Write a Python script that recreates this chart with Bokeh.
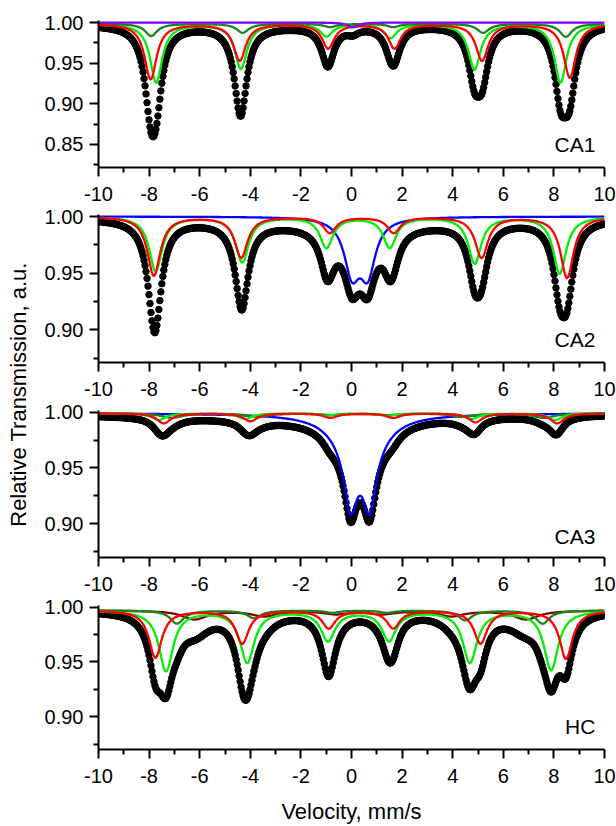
import numpy as np
from bokeh.plotting import figure
from bokeh.layouts import row, column
from bokeh.models import Range1d, FixedTicker, CustomJSTickFormatter, Label
from bokeh.embed import file_html
from bokeh.resources import INLINE

FONT = "Liberation Sans"

# ---------------- axes ----------------
velocity_major_ticks = [-10, -8, -6, -4, -2, 0, 2, 4, 6, 8, 10]
velocity_minor_ticks = [-9, -7, -5, -3, -1, 1, 3, 5, 7, 9]
ca1_y_ticks = [0.85, 0.90, 0.95, 1.00]
ca1_y_minor = [0.825, 0.875, 0.925, 0.975]
y_ticks = [0.90, 0.95, 1.00]
y_minor = [0.875, 0.925, 0.975]
channel_count = 512

# ---------------- CA1 (line positions mm/s, depths, widths mm/s) ----------------
ca1_baseline = 0.9985
ca1_red_pos = [-7.94, -4.42, -0.92, 1.70, 5.16, 8.63]
ca1_red_depth = [0.068, 0.045, 0.030, 0.030, 0.045, 0.066]
ca1_green_pos = [-7.72, -4.37, -0.99, 1.54, 4.86, 8.26]
ca1_green_depth = [0.072, 0.055, 0.015, 0.017, 0.056, 0.072]
ca1_dkgreen_pos = [-7.92, -4.30, -0.85, 1.65, 5.20, 8.47]
ca1_dkgreen_depth = [0.015, 0.011, 0.004, 0.004, 0.011, 0.016]
ca1_violet_pos = [0.05]
ca1_violet_depth = [0.006]
ca1_fwhm = 0.58
ca1_violet_fwhm = 0.5
ca1_bg_pos = [-3.0]
ca1_bg_depth = [0.003]
ca1_bg_fwhm = [12.0]

# ---------------- CA2 ----------------
ca2_baseline = 1.0
ca2_red_pos = [-7.81, -4.36, -0.86, 1.67, 5.14, 8.52]
ca2_red_depth = [0.052, 0.036, 0.014, 0.014, 0.036, 0.054]
ca2_green_pos = [-7.74, -4.32, -0.99, 1.51, 4.87, 8.23]
ca2_green_depth = [0.048, 0.040, 0.027, 0.027, 0.041, 0.050]
ca2_fwhm = 0.62
ca2_blue_pos = [0.02, 0.64]
ca2_blue_depth = [0.046, 0.046]
ca2_blue_fwhm = 0.75
ca2_bg_pos = [0.3]
ca2_bg_depth = [0.008]
ca2_bg_fwhm = [12.0]

# ---------------- CA3 ----------------
ca3_baseline = 0.999
ca3_blue_pos = [-0.04, 0.72, -0.04, 0.72]
ca3_blue_depth = [0.0525, 0.0525, 0.0198, 0.0198]
ca3_blue_fwhm = [0.6, 0.6, 1.8, 1.8]
ca3_red_pos = [-7.42, -4.00, -0.83, 1.65, 4.90, 8.13]
ca3_red_depth = [0.009, 0.007, 0.004, 0.004, 0.008, 0.009]
ca3_green_pos = [-7.62, -4.20, -0.95, 1.50, 4.75, 8.05]
ca3_green_depth = [0.006, 0.005, 0.002, 0.002, 0.005, 0.006]
ca3_dkgreen_pos = [-7.10, -3.70, -0.70, 1.40, 4.40, 7.60]
ca3_dkgreen_depth = [0.004, 0.003, 0.0015, 0.0015, 0.003, 0.004]
ca3_fwhm = 0.65
ca3_dkgreen_fwhm = 1.0
ca3_bg_pos = [-2.0]
ca3_bg_depth = [0.005]
ca3_bg_fwhm = [14.0]

# ---------------- HC ----------------
hc_baseline = 0.997
hc_red_pos = [-7.75, -4.32, -0.90, 1.65, 5.10, 8.48]
hc_red_depth = [0.043, 0.030, 0.016, 0.016, 0.030, 0.044]
hc_red_fwhm = 0.62
hc_green_pos = [-7.33, -4.12, -0.93, 1.48, 4.68, 7.89]
hc_green_depth = [0.055, 0.047, 0.027, 0.027, 0.047, 0.054]
hc_green_fwhm = 0.68
hc_dkgreen_pos = [-6.90, -3.85, -0.75, 1.40, 4.50, 7.55]
hc_dkgreen_depth = [0.012, 0.007, 0.002, 0.002, 0.009, 0.012]
hc_dkgreen_fwhm = 0.65
hc_brown_pos = [-6.20, -3.45, -0.60, 1.20, 3.95, 6.90]
hc_brown_depth = [0.008, 0.005, 0.003, 0.003, 0.005, 0.008]
hc_brown_fwhm = 1.2
hc_bg_pos = [-6.1, -3.7, -0.9, 4.3, 6.6]
hc_bg_depth = [0.008, 0.003, 0.010, 0.003, 0.006]
hc_bg_fwhm = [1.5, 1.5, 0.6, 1.5, 1.5]

RED = "#ff0000"
GREEN = "#00ee00"
DKGREEN = "#1a841a"
BLUE = "#0000ff"
VIOLET = "#8000ff"
BROWN = "#800000"


def absorption(v, pos, depth, fwhm):
    pos = np.asarray(pos, float)
    depth = np.asarray(depth, float)
    fwhm = np.broadcast_to(np.asarray(fwhm, float), pos.shape)
    out = np.zeros_like(v)
    for p0, d0, w0 in zip(pos, depth, fwhm):
        out += d0 / (1.0 + ((v - p0) / (w0 / 2.0)) ** 2)
    return out


v_line = np.linspace(-10, 10, 1201)
v_dots = np.linspace(-10, 10, channel_count)


def style_axis(ax, standoff):
    ax.axis_line_width = 2
    ax.axis_line_color = "black"
    ax.major_tick_line_width = 2
    ax.minor_tick_line_width = 2
    ax.major_tick_line_color = "black"
    ax.minor_tick_line_color = "black"
    ax.major_tick_in = 0
    ax.major_tick_out = 9
    ax.minor_tick_in = 0
    ax.minor_tick_out = 5
    ax.major_label_text_font = FONT
    ax.major_label_text_font_size = "20px"
    ax.major_label_text_color = "black"
    ax.major_label_standoff = standoff


def make_panel(name, y_rng, ymaj, ymin, comps, bg, base, height, top, bottom, lab_y, xlabel=None):
    p = figure(width=578, height=height, x_range=Range1d(-10, 10), y_range=Range1d(*y_rng),
               output_backend="svg", toolbar_location=None,
               min_border_left=60, min_border_right=12, min_border_top=top, min_border_bottom=bottom)
    p.outline_line_color = None
    p.xgrid.visible = False
    p.ygrid.visible = False
    style_axis(p.xaxis[0], 10)
    style_axis(p.yaxis[0], 6)
    p.xaxis.ticker = FixedTicker(ticks=velocity_major_ticks, minor_ticks=velocity_minor_ticks)
    p.yaxis.ticker = FixedTicker(ticks=ymaj, minor_ticks=ymin)
    p.xaxis.formatter = CustomJSTickFormatter(code="return tick.toFixed(0);")
    p.yaxis.formatter = CustomJSTickFormatter(code="return tick.toFixed(2);")
    if xlabel:
        p.xaxis.axis_label = xlabel
        p.xaxis.axis_label_text_font = FONT
        p.xaxis.axis_label_text_font_size = "22px"
        p.xaxis.axis_label_text_font_style = "normal"
        p.xaxis.axis_label_text_color = "black"
        p.xaxis.axis_label_standoff = 13

    total = np.zeros_like(v_dots)
    for c in comps:
        total += absorption(v_dots, c["pos"], c["depth"], c["fwhm"])
    total += absorption(v_dots, *bg)
    p.scatter(v_dots, base - total, size=6.5, color="black", marker="circle")

    for c in comps:
        b = c.get("base", base)
        p.line(v_line, b - absorption(v_line, c["pos"], c["depth"], c["fwhm"]),
               line_color=c["color"], line_width=2.3)

    p.add_layout(Label(x=9.64, y=lab_y, text=name, text_align="right", text_baseline="middle",
                       text_font=FONT, text_font_size="21px", text_color="black"))
    return p


p1 = make_panel("CA1", (0.8217, 1.0025), ca1_y_ticks, ca1_y_minor, [
    dict(color=GREEN, pos=ca1_green_pos, depth=ca1_green_depth, fwhm=ca1_fwhm),
    dict(color=DKGREEN, pos=ca1_dkgreen_pos, depth=ca1_dkgreen_depth, fwhm=ca1_fwhm),
    dict(color=RED, pos=ca1_red_pos, depth=ca1_red_depth, fwhm=ca1_fwhm),
    dict(color=VIOLET, pos=ca1_violet_pos, depth=ca1_violet_depth, fwhm=ca1_violet_fwhm, base=1.0),
], (ca1_bg_pos, ca1_bg_depth, ca1_bg_fwhm), ca1_baseline, 204, 20, 37, 0.8497)

p2 = make_panel("CA2", (0.8712, 1.0018), y_ticks, y_minor, [
    dict(color=BLUE, pos=ca2_blue_pos, depth=ca2_blue_depth, fwhm=ca2_blue_fwhm),
    dict(color=GREEN, pos=ca2_green_pos, depth=ca2_green_depth, fwhm=ca2_fwhm),
    dict(color=RED, pos=ca2_red_pos, depth=ca2_red_depth, fwhm=ca2_fwhm),
], (ca2_bg_pos, ca2_bg_depth, ca2_bg_fwhm), ca2_baseline, 196, 10, 38, 0.8915)

p3 = make_panel("CA3", (0.8698, 1.0015), y_ticks, y_minor, [
    dict(color=BLUE, pos=ca3_blue_pos, depth=ca3_blue_depth, fwhm=ca3_blue_fwhm),
    dict(color=DKGREEN, pos=ca3_dkgreen_pos, depth=ca3_dkgreen_depth, fwhm=ca3_dkgreen_fwhm),
    dict(color=GREEN, pos=ca3_green_pos, depth=ca3_green_depth, fwhm=ca3_fwhm),
    dict(color=RED, pos=ca3_red_pos, depth=ca3_red_depth, fwhm=ca3_fwhm),
], (ca3_bg_pos, ca3_bg_depth, ca3_bg_fwhm), ca3_baseline, 196, 10, 39, 0.8886)

p4 = make_panel("HC", (0.8701, 1.0015), y_ticks, y_minor, [
    dict(color=BROWN, pos=hc_brown_pos, depth=hc_brown_depth, fwhm=hc_brown_fwhm),
    dict(color=DKGREEN, pos=hc_dkgreen_pos, depth=hc_dkgreen_depth, fwhm=hc_dkgreen_fwhm),
    dict(color=GREEN, pos=hc_green_pos, depth=hc_green_depth, fwhm=hc_green_fwhm),
    dict(color=RED, pos=hc_red_pos, depth=hc_red_depth, fwhm=hc_red_fwhm),
], (hc_bg_pos, hc_bg_depth, hc_bg_fwhm), hc_baseline, 230, 9, 73, 0.8914,
    xlabel="Velocity, mm/s")

TOTAL_H = 204 + 196 + 196 + 230
lab = figure(width=38, height=TOTAL_H, x_range=Range1d(0, 38), y_range=Range1d(0, TOTAL_H),
             output_backend="svg", toolbar_location=None, min_border=0,
             x_axis_location=None, y_axis_location=None)
lab.outline_line_color = None
lab.grid.visible = False
lab.add_layout(Label(x=18, y=TOTAL_H - 394, text="Relative Transmission, a.u.", angle=np.pi / 2,
                     text_align="center", text_baseline="middle", text_font=FONT,
                     text_font_size="22px", text_color="black"))

layout = row(lab, column(p1, p2, p3, p4))

with open("out.html", "w") as f:
    f.write(file_html(layout, INLINE))
